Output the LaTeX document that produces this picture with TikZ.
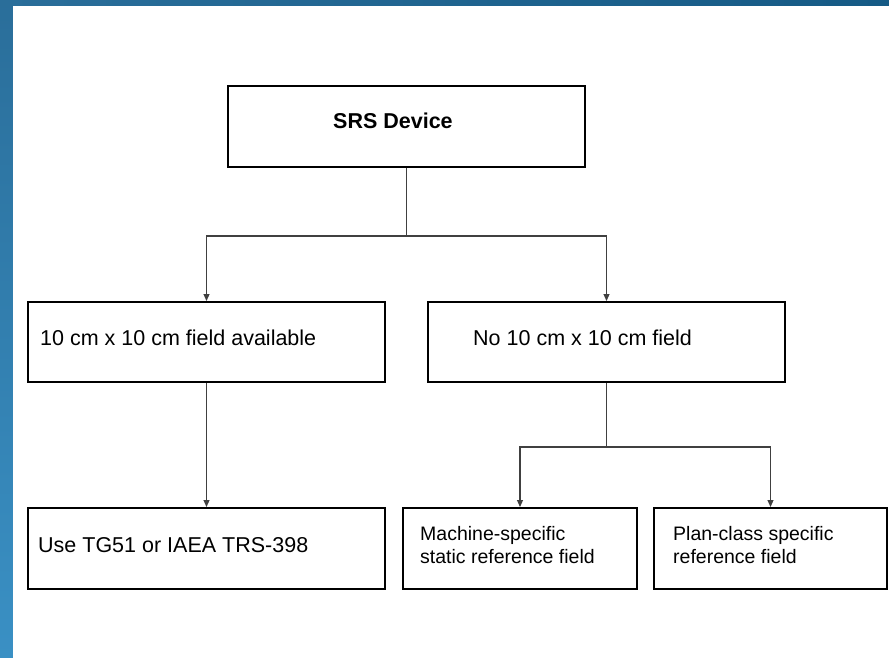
\documentclass[tikz,border=0pt]{standalone}
\usepackage{fontspec}
\setmainfont{Liberation Sans}
\usetikzlibrary{arrows.meta}
\definecolor{bandtop}{HTML}{2A6E9A}
\definecolor{bandright}{HTML}{155A85}
\definecolor{bandbottom}{HTML}{3A90C4}
\definecolor{linkgray}{HTML}{404040}
\tikzset{
  box/.style={draw=black, line width=2pt, fill=white, rectangle, inner sep=0pt},
  link/.style={draw=linkgray, line width=1.1pt},
  arr/.style={link, -{Triangle[width=6pt,length=7pt]}},
  lbl/.style={anchor=base west, inner sep=0pt, font=\fontsize{21.5}{24}\selectfont},
  slbl/.style={anchor=base west, inner sep=0pt, font=\fontsize{19.5}{22}\selectfont},
}
\begin{document}
\begin{tikzpicture}[x=1pt, y=-1pt]
\useasboundingbox (0,0) rectangle (889,658);
% background frame
\shade[left color=bandtop, right color=bandright] (0,0) rectangle (889,6);
\shade[top color=bandtop, bottom color=bandbottom] (0,0) rectangle (13,658);
\fill[white] (13,6) rectangle (889,658);
% boxes
\node[box, minimum width=357pt, minimum height=81pt] (srs) at (406.5,126.5) {};
\node[box, minimum width=357pt, minimum height=80pt] (a) at (206.5,342) {};
\node[box, minimum width=357pt, minimum height=80pt] (b) at (606.5,342) {};
\node[box, minimum width=357pt, minimum height=81pt] (c) at (206.5,548.5) {};
\node[box, minimum width=234pt, minimum height=81pt] (d) at (520,548.5) {};
\node[box, minimum width=233pt, minimum height=81pt] (e) at (770.5,548.5) {};
% labels
\node[lbl, font=\fontsize{21.5}{24}\selectfont\bfseries] (tsrs) at (333,129) {SRS Device};
\node[lbl] (ta) at (40,345) {10 cm x 10 cm field available};
\node[lbl] (tb) at (473,345) {No 10 cm x 10 cm field};
\node[lbl] (tc) at (38,552) {Use TG51 or IAEA TRS-398};
\node[slbl] (td1) at (420,540) {Machine-specific};
\node[slbl] (td2) at (420,563) {static reference field};
\node[slbl] (te1) at (673,540) {Plan-class specific};
\node[slbl] (te2) at (673,563) {reference field};
% connectors
\draw[link] (srs.south) -- ++(0,68) coordinate (j1);
\draw[arr] (j1) -| (a.north);
\draw[arr] (j1) -| (b.north);
\draw[arr] (a.south) -- (c.north);
\draw[link] (b.south) -- ++(0,64) coordinate (j2);
\draw[arr] (j2) -| (d.north);
\draw[arr] (j2) -| (e.north);
\end{tikzpicture}
\end{document}
